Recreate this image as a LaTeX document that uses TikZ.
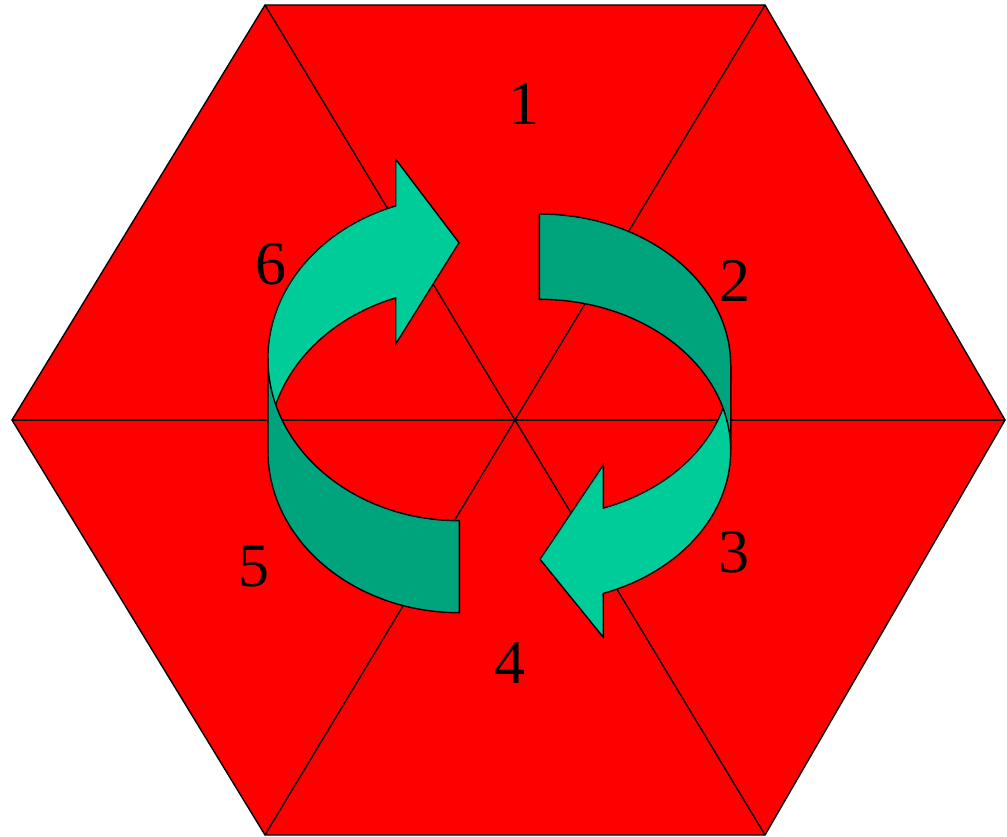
\documentclass[tikz,border=0pt]{standalone}
\usepackage{fontspec}
\setmainfont{Liberation Serif}
\definecolor{hexred}{RGB}{255,0,0}
\definecolor{lightg}{RGB}{0,204,153}
\definecolor{darkg}{RGB}{0,164,124}
\tikzset{
  hexline/.style={draw=black, line width=1.4pt},
  lightpiece/.style={fill=lightg, draw=black, line width=1.4pt, line join=miter},
  darkpiece/.style={fill=darkg, draw=black, line width=1.4pt, line join=miter},
  numlabel/.style={inner sep=0pt, font=\fontsize{62}{62}\selectfont}
}
\begin{document}
\begin{tikzpicture}[x=1pt,y=-1pt]
\useasboundingbox (0,0) rectangle (1007,837);
% hexagon
\coordinate (c) at (515,420);
\coordinate (v1) at (265,5);
\coordinate (v2) at (765,5);
\coordinate (v3) at (1005,420);
\coordinate (v4) at (765,835);
\coordinate (v5) at (265,835);
\coordinate (v6) at (12,420);
\path[fill=hexred, hexline] (v1) -- (v2) -- (v3) -- (v4) -- (v5) -- (v6) -- cycle;
\foreach \v in {v1,v2,v3,v4,v5,v6} \draw[hexline] (c) -- (\v);
% left arrow: ellipses A (459.3,358.7) and B (459.3,450.7), rx 191.4, ry 162
\path[lightpiece] (267.9,358.7) arc[start angle=180, end angle=250.6, x radius=191.4, y radius=162]
  -- (395.7,159.3) -- (459,242.7) -- (395.7,344) -- (395.7,297.9)
  arc[start angle=250.6, end angle=180, x radius=191.4, y radius=162] -- cycle;
\path[darkpiece] (267.9,358.7) arc[start angle=180, end angle=90, x radius=191.4, y radius=162]
  -- (459.3,612.7) arc[start angle=90, end angle=180, x radius=191.4, y radius=162] -- cycle;
% right arrow: ellipses C (539.3,450.7) and D (539.3,365.4), rx 191.4, ry 151.4
\path[lightpiece] (730.7,450.7) arc[start angle=0, end angle=70.5, x radius=191.4, y radius=151.4]
  -- (603.3,637.3) -- (540,559.3) -- (603.3,465) -- (603.3,508.1)
  arc[start angle=70.5, end angle=0, x radius=191.4, y radius=151.4] -- cycle;
\path[darkpiece] (539.3,214) arc[start angle=270, end angle=360, x radius=191.4, y radius=151.4]
  -- (730.7,450.7) arc[start angle=360, end angle=270, x radius=191.4, y radius=151.4] -- cycle;
% labels
\node[numlabel] (n1) at (524,104) {1};
\node[numlabel] (n2) at (735,281) {2};
\node[numlabel] (n3) at (734,552.5) {3};
\node[numlabel] (n4) at (510,663) {4};
\node[numlabel] (n5) at (254,567) {5};
\node[numlabel] (n6) at (271,264) {6};
\end{tikzpicture}
\end{document}
